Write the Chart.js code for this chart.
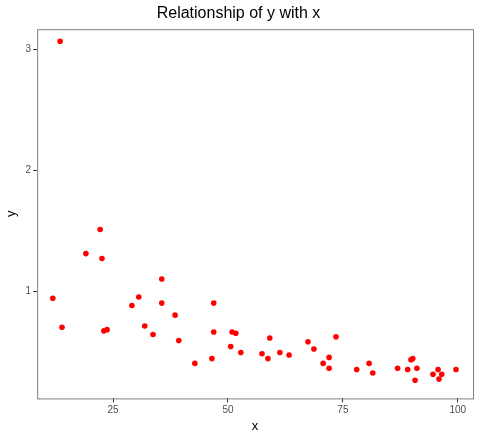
<!DOCTYPE html>
<html><head><script src="https://cdn.jsdelivr.net/npm/chart.js@4"></script>
<style>body{margin:0;background:#fff}#w{width:480px;height:436px}</style></head>
<body><div id="w"><canvas id="c"></canvas></div>
<script>
const xs=[13.5,11.9,13.9,19.1,22.2,22.6,23.0,23.7,29.1,30.6,31.9,33.7,35.6,35.6,38.5,39.3,42.8,46.5,46.9,46.9,50.6,50.9,51.7,52.8,57.4,58.7,59.1,61.3,63.3,67.4,68.7,70.7,72.0,72.0,73.5,78.0,80.7,81.5,86.9,89.1,89.8,90.2,90.7,91.1,94.6,95.7,95.9,96.5,99.6];
const ys=[3.07,0.94,0.70,1.31,1.51,1.27,0.67,0.68,0.88,0.95,0.71,0.64,1.10,0.90,0.80,0.59,0.40,0.44,0.90,0.66,0.54,0.66,0.65,0.49,0.48,0.44,0.61,0.49,0.47,0.58,0.52,0.40,0.45,0.36,0.62,0.35,0.40,0.32,0.36,0.35,0.43,0.44,0.26,0.36,0.31,0.35,0.27,0.31,0.35];
const xTicks=[25,50,75,100], yTicks=[1,2,3];
const border={id:'b',afterDraw(c){const a=c.chartArea,g=c.ctx;g.save();g.strokeStyle='#7f7f7f';g.lineWidth=1;g.strokeRect(a.left+.5,a.top+.5,a.right-a.left,a.bottom-a.top);g.restore();}};
const F='Liberation Sans, Arial, sans-serif';
new Chart(document.getElementById('c'),{type:'scatter',
data:{datasets:[{data:xs.map((x,i)=>({x,y:ys[i]})),backgroundColor:'#ff0000',borderColor:'#ff0000',pointRadius:2.8,pointBorderWidth:0}]},
options:{responsive:true,maintainAspectRatio:false,animation:false,
layout:{padding:{left:4,right:7,top:0,bottom:2}},
plugins:{legend:{display:false},tooltip:{enabled:false},title:{display:true,text:'Relationship of y with x',color:'#000',font:{family:F,size:16,weight:'normal'},padding:{top:4,bottom:6}}},
scales:{
x:{type:'linear',min:8.5,max:103.3,afterBuildTicks:s=>{s.ticks=xTicks.map(v=>({value:v}))},
grid:{display:true,drawOnChartArea:false,drawTicks:true,tickLength:4,color:'#333'},border:{display:false},
ticks:{color:'#4d4d4d',font:{family:F,size:10},padding:2,maxRotation:0},
title:{display:true,text:'x',color:'#000',font:{family:F,size:13},padding:{top:0,bottom:0}}},
y:{type:'linear',min:0.11,max:3.17,afterBuildTicks:s=>{s.ticks=yTicks.map(v=>({value:v}))},
grid:{display:true,drawOnChartArea:false,drawTicks:true,tickLength:4,color:'#333'},border:{display:false},
ticks:{color:'#4d4d4d',font:{family:F,size:10},padding:2},
title:{display:true,text:'y',color:'#000',font:{family:F,size:13},padding:{top:0,bottom:4}}}}},
plugins:[border]});
</script></body></html>
